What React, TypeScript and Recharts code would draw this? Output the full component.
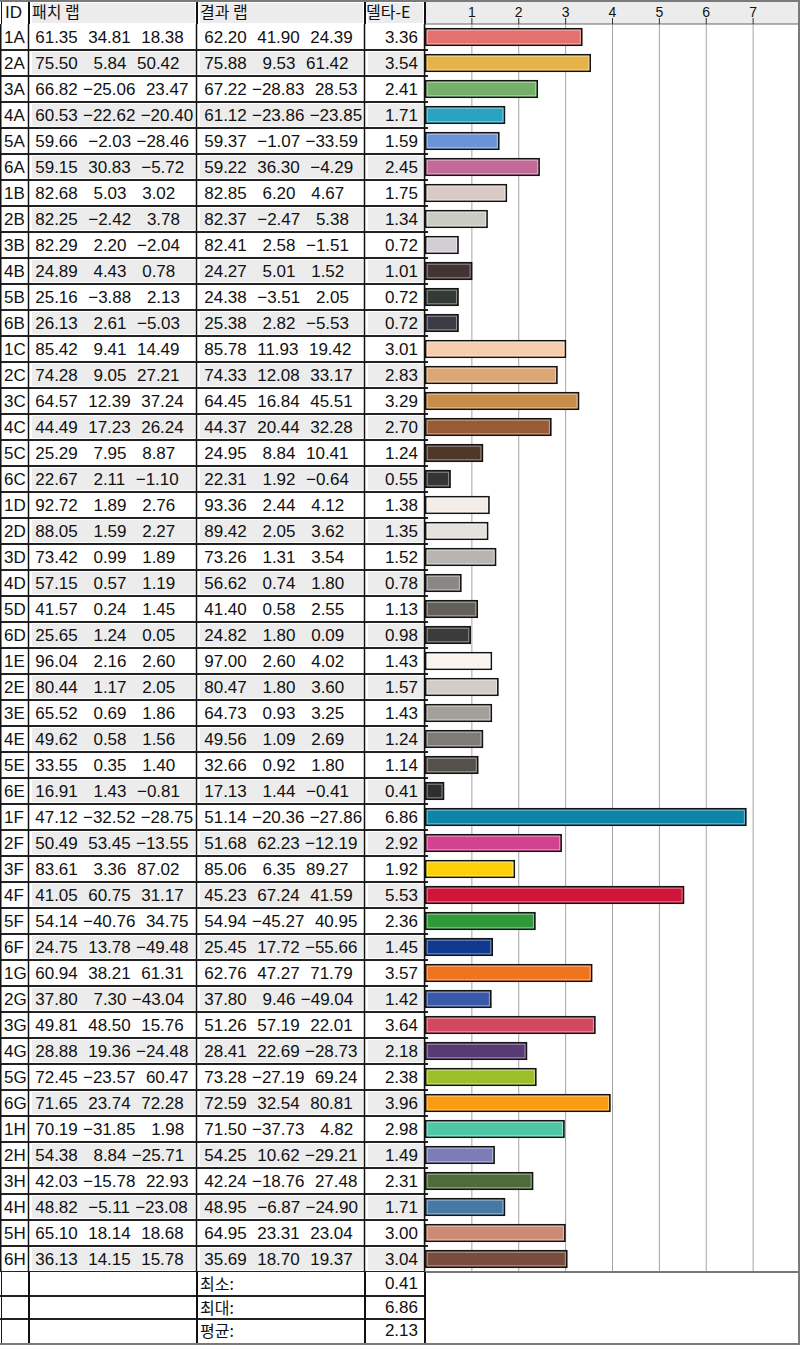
import React from "react";
import { BarChart, Bar, XAxis, YAxis, CartesianGrid } from "recharts";

const IDS = [
  "1A", "2A", "3A", "4A", "5A", "6A", "1B", "2B", "3B", "4B", "5B", "6B",
  "1C", "2C", "3C", "4C", "5C", "6C", "1D", "2D", "3D", "4D", "5D", "6D",
  "1E", "2E", "3E", "4E", "5E", "6E", "1F", "2F", "3F", "4F", "5F", "6F",
  "1G", "2G", "3G", "4G", "5G", "6G", "1H", "2H", "3H", "4H", "5H", "6H",
];

// 패치 랩 (L, a, b)
const PATCH_L = [61.35, 75.5, 66.82, 60.53, 59.66, 59.15, 82.68, 82.25, 82.29, 24.89, 25.16, 26.13, 85.42, 74.28, 64.57, 44.49, 25.29, 22.67, 92.72, 88.05, 73.42, 57.15, 41.57, 25.65, 96.04, 80.44, 65.52, 49.62, 33.55, 16.91, 47.12, 50.49, 83.61, 41.05, 54.14, 24.75, 60.94, 37.8, 49.81, 28.88, 72.45, 71.65, 70.19, 54.38, 42.03, 48.82, 65.1, 36.13];
const PATCH_A = [34.81, 5.84, -25.06, -22.62, -2.03, 30.83, 5.03, -2.42, 2.2, 4.43, -3.88, 2.61, 9.41, 9.05, 12.39, 17.23, 7.95, 2.11, 1.89, 1.59, 0.99, 0.57, 0.24, 1.24, 2.16, 1.17, 0.69, 0.58, 0.35, 1.43, -32.52, 53.45, 3.36, 60.75, -40.76, 13.78, 38.21, 7.3, 48.5, 19.36, -23.57, 23.74, -31.85, 8.84, -15.78, -5.11, 18.14, 14.15];
const PATCH_B = [18.38, 50.42, 23.47, -20.4, -28.46, -5.72, 3.02, 3.78, -2.04, 0.78, 2.13, -5.03, 14.49, 27.21, 37.24, 26.24, 8.87, -1.1, 2.76, 2.27, 1.89, 1.19, 1.45, 0.05, 2.6, 2.05, 1.86, 1.56, 1.4, -0.81, -28.75, -13.55, 87.02, 31.17, 34.75, -49.48, 61.31, -43.04, 15.76, -24.48, 60.47, 72.28, 1.98, -25.71, 22.93, -23.08, 18.68, 15.78];

// 결과 랩 (L, a, b)
const RESULT_L = [62.2, 75.88, 67.22, 61.12, 59.37, 59.22, 82.85, 82.37, 82.41, 24.27, 24.38, 25.38, 85.78, 74.33, 64.45, 44.37, 24.95, 22.31, 93.36, 89.42, 73.26, 56.62, 41.4, 24.82, 97.0, 80.47, 64.73, 49.56, 32.66, 17.13, 51.14, 51.68, 85.06, 45.23, 54.94, 25.45, 62.76, 37.8, 51.26, 28.41, 73.28, 72.59, 71.5, 54.25, 42.24, 48.95, 64.95, 35.69];
const RESULT_A = [41.9, 9.53, -28.83, -23.86, -1.07, 36.3, 6.2, -2.47, 2.58, 5.01, -3.51, 2.82, 11.93, 12.08, 16.84, 20.44, 8.84, 1.92, 2.44, 2.05, 1.31, 0.74, 0.58, 1.8, 2.6, 1.8, 0.93, 1.09, 0.92, 1.44, -20.36, 62.23, 6.35, 67.24, -45.27, 17.72, 47.27, 9.46, 57.19, 22.69, -27.19, 32.54, -37.73, 10.62, -18.76, -6.87, 23.31, 18.7];
const RESULT_B = [24.39, 61.42, 28.53, -23.85, -33.59, -4.29, 4.67, 5.38, -1.51, 1.52, 2.05, -5.53, 19.42, 33.17, 45.51, 32.28, 10.41, -0.64, 4.12, 3.62, 3.54, 1.8, 2.55, 0.09, 4.02, 3.6, 3.25, 2.69, 1.8, -0.41, -27.86, -12.19, 89.27, 41.59, 40.95, -55.66, 71.79, -49.04, 22.01, -28.73, 69.24, 80.81, 4.82, -29.21, 27.48, -24.9, 23.04, 19.37];

// 델타-E
const DELTA_E = [3.36, 3.54, 2.41, 1.71, 1.59, 2.45, 1.75, 1.34, 0.72, 1.01, 0.72, 0.72, 3.01, 2.83, 3.29, 2.7, 1.24, 0.55, 1.38, 1.35, 1.52, 0.78, 1.13, 0.98, 1.43, 1.57, 1.43, 1.24, 1.14, 0.41, 6.86, 2.92, 1.92, 5.53, 2.36, 1.45, 3.57, 1.42, 3.64, 2.18, 2.38, 3.96, 2.98, 1.49, 2.31, 1.71, 3.0, 3.04];

const X_TICKS = [1, 2, 3, 4, 5, 6, 7];

const SUMMARY_LABELS = ["최소:", "최대:", "평균:"];
const SUMMARY_VALUES = ["0.41", "6.86", "2.13"];

const COLORS = [
  "#e3716e", "#e6b24a", "#74b06a", "#2aa3c2", "#6a94d6", "#c46a98",
  "#d8cac4", "#c9ccc1", "#d2ced4", "#403434", "#343b34", "#3b3b45",
  "#f7ccac", "#dca776", "#c88d4a", "#975c34", "#4e3628", "#353536",
  "#f4ece7", "#e5e1dd", "#b7b4b1", "#8a8785", "#63605c", "#3c3b3b",
  "#f9f4f0", "#d0ccc7", "#a3a09c", "#7e7b77", "#54514d", "#2e2e2e",
  "#0c85a8", "#d2428f", "#fcd006", "#d0153a", "#309a3a", "#0f3a90",
  "#f07420", "#3a58a8", "#d24860", "#583b74", "#9cbf2a", "#fc9a10",
  "#4fc6a6", "#7c7cb6", "#4f6b3a", "#4878a4", "#cd8a76", "#7a4c3e",
];

const FONT = "'Liberation Sans', Arial, sans-serif";
const KFONT = "'Noto Sans CJK KR', 'Noto Sans', sans-serif";
const ROW_H = 26;
const HEAD_H = 24;
const CHART_H = HEAD_H + IDS.length * ROW_H;
const CELL_GRAY = "#ececec";

const fmt = (v: number) => v.toFixed(2).replace("-", "\u2212").padStart(6, " ");
const triple = (a: number, b: number, c: number) => [fmt(a), fmt(b), fmt(c)].join(" ");

const rows = IDS.map((id, i) => ({
  id,
  patch: triple(PATCH_L[i], PATCH_A[i], PATCH_B[i]),
  result: triple(RESULT_L[i], RESULT_A[i], RESULT_B[i]),
  delta: DELTA_E[i],
  color: COLORS[i],
}));

function lighten(hex: string, t: number) {
  const n = parseInt(hex.slice(1), 16);
  const ch = [(n >> 16) & 255, (n >> 8) & 255, n & 255].map((v) => Math.round(v + (255 - v) * t));
  return `rgb(${ch[0]},${ch[1]},${ch[2]})`;
}

function RowTick(props: any) {
  const { y, payload } = props;
  const idx = IDS.indexOf(payload.value);
  const r = rows[idx];
  const top = y - ROW_H / 2;
  const shaded = idx % 2 === 1;
  const base = y + 6;
  return (
    <g>
      {shaded && (
        <g fill={CELL_GRAY}>
          <rect x={32} y={top + 2} width={163} height={22} />
          <rect x={200} y={top + 2} width={163} height={22} />
          <rect x={368} y={top + 2} width={55} height={22} />
        </g>
      )}
      <g fontFamily={FONT} fontSize={17} fill="#111">
        <text x={4} y={base}>{r.id}</text>
        <text x={30} y={base} xmlSpace="preserve" style={{ whiteSpace: "pre", wordSpacing: 0.5 }}>{r.patch}</text>
        <text x={199} y={base} xmlSpace="preserve" style={{ whiteSpace: "pre", wordSpacing: 0.5 }}>{r.result}</text>
        <text x={418} y={base} textAnchor="end">{r.delta.toFixed(2)}</text>
      </g>
      <g stroke="#111" strokeWidth={1.5}>
        <line x1={0.75} x2={0.75} y1={top} y2={top + ROW_H} />
        <line x1={28.5} x2={28.5} y1={top} y2={top + ROW_H} />
        <line x1={196.5} x2={196.5} y1={top} y2={top + ROW_H} />
        <line x1={364.5} x2={364.5} y1={top} y2={top + ROW_H} />
        <line x1={424.5} x2={424.5} y1={top} y2={top + ROW_H} />
      </g>
      <line x1={0} x2={428} y1={top + ROW_H} y2={top + ROW_H} stroke="#222" strokeWidth={2} />
    </g>
  );
}

function XTick(props: any) {
  const { x, payload } = props;
  return (
    <text x={x} y={17} textAnchor="middle" fontFamily={FONT} fontSize={14} fill="#111">
      {payload.value}
    </text>
  );
}

function BarShape(props: any) {
  const { x, y, width, height, payload } = props;
  if (!width || width <= 0) return null;
  const c = payload.color;
  return (
    <g>
      <rect x={x + 0.75} y={y + 0.75} width={width - 1.5} height={height - 1.5} fill={c} stroke="#141414" strokeWidth={1.6} />
      <rect x={x + 2.2} y={y + 2.2} width={Math.max(0, width - 4.4)} height={height - 4.4} fill="none" stroke={lighten(c, 0.45)} strokeWidth={1} />
    </g>
  );
}

const abs = (l: number, t: number, w: number, h: number, extra: React.CSSProperties = {}): React.CSSProperties => ({
  position: "absolute", left: l, top: t, width: w, height: h, ...extra,
});

export default function App() {
  const vline = (x: number, t: number, h: number) => (
    <div key={`v${x}-${t}`} style={abs(x, t, 1.5, h, { background: "#111" })} />
  );
  const sumTop = CHART_H;
  const sumH = (1345 - CHART_H - 2) / 3;
  return (
    <div style={{ position: "absolute", left: 0, top: 0, width: 800, height: 1345, background: "#fff", overflow: "hidden" }}>
      {/* header row */}
      <div style={abs(32, 3, 163, 20, { background: CELL_GRAY })} />
      <div style={abs(200, 3, 163, 20, { background: CELL_GRAY })} />
      <div style={abs(368, 3, 55, 20, { background: CELL_GRAY })} />
      <div style={abs(426, 2, 372, 22, { background: CELL_GRAY })} />
      <div style={abs(5, 1, 24, 22, { fontFamily: FONT, fontSize: 17, lineHeight: "23px", color: "#111" })}>ID</div>
      <div style={abs(32, 0, 160, 22, { fontFamily: KFONT, fontSize: 16, lineHeight: "23px", color: "#111" })}>패치 랩</div>
      <div style={abs(200, 0, 160, 22, { fontFamily: KFONT, fontSize: 16, lineHeight: "23px", color: "#111" })}>결과 랩</div>
      <div style={abs(366, 0, 58, 22, { fontFamily: KFONT, fontSize: 16, lineHeight: "23px", color: "#111" })}>델타-E</div>
      {[0.5, 28, 196, 364, 424].map((x) => vline(x, 0, HEAD_H))}

      {/* chart with table rows as category ticks */}
      <div style={abs(0, 0, 800, CHART_H)}>
        <BarChart
          width={800}
          height={CHART_H}
          data={rows}
          layout="vertical"
          margin={{ top: 0, right: 0, bottom: 0, left: 0 }}
          barSize={18}
        >
          <CartesianGrid horizontal={false} stroke="#a4a4a4" strokeWidth={1} />
          <XAxis
            type="number"
            orientation="top"
            domain={[0, 8]}
            ticks={X_TICKS}
            interval={0}
            height={HEAD_H}
            tickSize={6}
            axisLine={{ stroke: "#666" }}
            tickLine={{ stroke: "#333" }}
            tick={(p: any) => <XTick {...p} />}
          />
          <YAxis
            type="category"
            dataKey="id"
            width={425}
            interval={0}
            axisLine={false}
            tickLine={false}
            tick={(p: any) => <RowTick {...p} />}
          />
          <Bar dataKey="delta" isAnimationActive={false} shape={(p: any) => <BarShape {...p} />} />
        </BarChart>
      </div>

      {/* chart bottom line */}
      <div style={abs(425, CHART_H - 1, 375, 1.5, { background: "#777" })} />

      {/* summary rows */}
      {SUMMARY_LABELS.map((lab, i) => {
        const t = sumTop + i * sumH;
        return (
          <React.Fragment key={lab}>
            <div style={abs(200, t, 160, sumH, { fontFamily: KFONT, fontSize: 16, lineHeight: `${sumH}px`, color: "#111" })}>{lab}</div>
            <div style={abs(366, t, 52, sumH, { fontFamily: FONT, fontSize: 17, lineHeight: `${sumH + 1}px`, color: "#111", textAlign: "right" })}>
              {SUMMARY_VALUES[i]}
            </div>
            {i > 0 && <div style={abs(0, t - 1, 425, 2, { background: "#222" })} />}
          </React.Fragment>
        );
      })}
      {[0.5, 28, 196, 364, 424].map((x) => vline(x, sumTop, 1345 - sumTop))}

      {/* outer frame */}
      <div style={abs(0, 0, 800, 1345, { boxSizing: "border-box", borderTop: "2px solid #7a7a7a", borderRight: "2px solid #7a7a7a", borderBottom: "2px solid #7a7a7a", pointerEvents: "none" })} />
    </div>
  );
}
